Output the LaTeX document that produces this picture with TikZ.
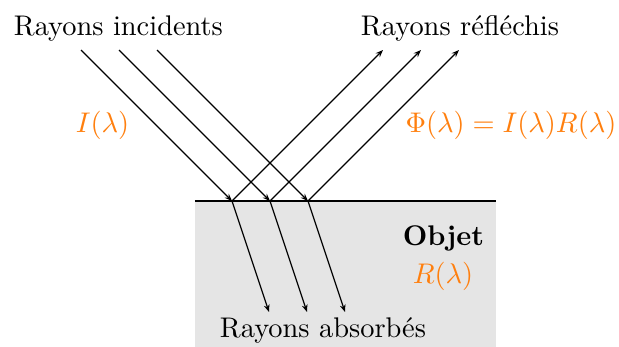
\documentclass[tikz,border=0pt]{standalone}
\usetikzlibrary{arrows.meta}
\definecolor{myorange}{RGB}{255,127,14}
\begin{document}
\begin{tikzpicture}[x=0.352pt,y=-0.352pt,
  lbl/.style={anchor=base,inner sep=0pt,outer sep=0pt},
  olbl/.style={lbl,text=myorange},
  ray/.style={line width=0.4pt,-{Stealth[length=2.6pt,width=2pt]}}]
\useasboundingbox (0,0) rectangle (619,347);
% object
\fill[gray!20] (195,201) rectangle (496,347);
\coordinate (sl) at (195,201);
\coordinate (sr) at (496,201);
\draw[line width=0.4pt] (sl) -- (sr);
% points
\coordinate (i1) at (81,50); \coordinate (i2) at (119,50); \coordinate (i3) at (157,50);
\coordinate (p1) at (232,201); \coordinate (p2) at (270,201); \coordinate (p3) at (308,201);
\coordinate (r1) at (383,50); \coordinate (r2) at (421,50); \coordinate (r3) at (459,50);
\coordinate (a1) at (269,312); \coordinate (a2) at (307,312); \coordinate (a3) at (345,312);
\foreach \k in {1,2,3}{
  \draw[ray] (i\k) -- (p\k);
  \draw[ray] (p\k) -- (r\k);
  \draw[ray] (p\k) -- (a\k);
}
% labels
\node[lbl] (inc) at (118.4,35) {Rayons incidents};
\node[lbl] (ref) at (460,35) {Rayons réfléchis};
\node[olbl] (I) at (102.5,132.5) {$I(\lambda)$};
\node[olbl] (Phi) at (511,132.5) {$\Phi(\lambda)=I(\lambda)R(\lambda)$};
\node[lbl] (obj) at (443.5,245) {\textbf{Objet}};
\node[olbl] (R) at (443,283) {$R(\lambda)$};
\node[lbl] (abs) at (323,337) {Rayons absorbés};
\end{tikzpicture}
\end{document}
